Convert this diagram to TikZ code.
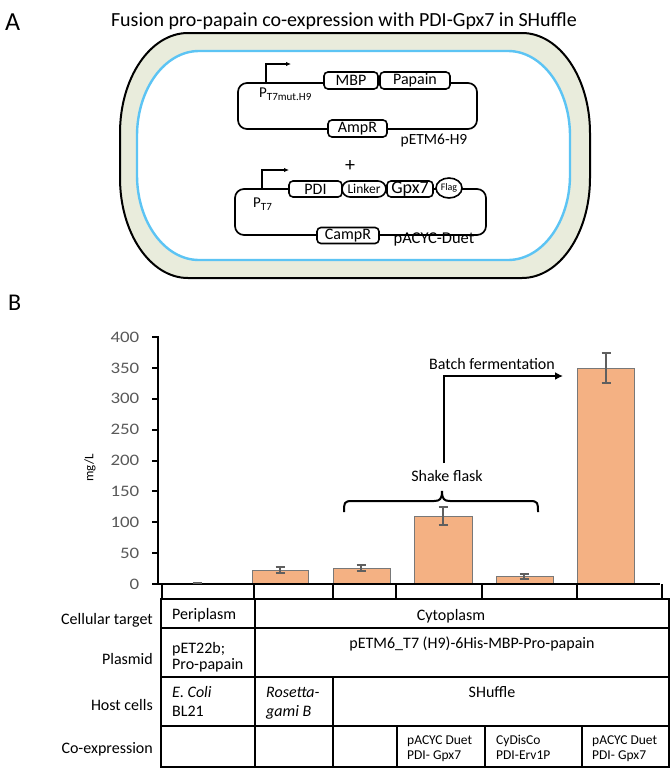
\documentclass[tikz,border=0pt]{standalone}
\usepackage{fontspec}
\setmainfont{Carlito}
\usetikzlibrary{arrows.meta,shapes.geometric}
\definecolor{cellfill}{RGB}{233,236,220}
\definecolor{membrane}{RGB}{92,196,244}
\definecolor{barfill}{RGB}{244,177,131}
\definecolor{barline}{RGB}{120,120,120}
\definecolor{errc}{RGB}{95,95,95}
\definecolor{axtext}{RGB}{89,89,89}
\newcommand\fsz[1]{\fontsize{#1}{#1}\selectfont}
\begin{document}
\begin{tikzpicture}[x=1pt,y=-1pt,
  gene/.style={draw, line width=1.6pt, fill=white, rounded corners=4pt, inner sep=0pt, font=\fsz{16}},
  loopline/.style={draw, line width=1.7pt, rounded corners=9pt},
  prom/.style={line width=1.6pt, -{Latex[length=5pt,width=4.5pt]}},
  lbl/.style={inner sep=0pt, font=\fsz{16}},
  ticklbl/.style={inner sep=0pt, anchor=east, text=axtext, font=\fsz{16}},
  bar/.style={fill=barfill, draw=barline, line width=0.8pt},
  errbar/.style={draw=errc, line width=1.8pt},
  tbl/.style={line width=1.3pt},
  cellt/.style={inner sep=0pt, font=\fsz{16}},
  small/.style={inner sep=0pt, font=\fsz{13.5}}
]
\useasboundingbox (0,0) rectangle (671,771);
\fill[white] (0,0) rectangle (671,771);

% ---------------- Panel A ----------------
\node[inner sep=0pt, font=\fsz{26}, anchor=base west] (lblA) at (5,30) {A};
\node[inner sep=0pt, font=\fsz{20}, anchor=base] (title) at (344,26.5) {Fusion pro-papain co-expression with PDI-Gpx7 in SHuffle};

% cell envelope
\draw[fill=cellfill, line width=2pt]
  (188,33) -- (522,33) arc[start angle=90, end angle=0, x radius=68pt, y radius=100pt]
  -- (590,178) arc[start angle=0, end angle=-90, x radius=68pt, y radius=100pt]
  -- (188,278) arc[start angle=270, end angle=180, x radius=68pt, y radius=100pt]
  -- (120,133) arc[start angle=180, end angle=90, x radius=68pt, y radius=100pt] -- cycle;
\draw[fill=white, draw=membrane, line width=2.4pt]
  (199,51) -- (508,51) arc[start angle=90, end angle=0, x radius=62pt, y radius=85pt]
  -- (570,175) arc[start angle=0, end angle=-90, x radius=62pt, y radius=85pt]
  -- (199,260) arc[start angle=270, end angle=180, x radius=62pt, y radius=85pt]
  -- (137,136) arc[start angle=180, end angle=90, x radius=62pt, y radius=85pt] -- cycle;

% plasmid 1
\draw[loopline] (238,83) rectangle (477,129);
\draw[prom] (266,83) -- (266,64) -- (291,64);
\node[gene, minimum width=54pt, minimum height=17pt] (mbp) at (351,80.5) {MBP};
\node[gene, minimum width=70pt, minimum height=17pt] (papain) at (415,80.5) {Papain};
\node[gene, minimum width=59pt, minimum height=17pt] (ampr) at (357.5,128.5) {AmpR};
\node[inner sep=0pt, anchor=base west, font=\fsz{15}] (pt7mut) at (259,97) {P\raisebox{-3.5pt}{\fsz{11}T7mut.H9}};
\node[lbl, font=\fsz{15.5}] (petm6) at (434,141) {pETM6-H9};

\node[inner sep=0pt, font=\fsz{20}] (plus) at (350,166) {+};

% plasmid 2
\draw[loopline] (235,189) rectangle (486,235);
\draw[prom] (262,189) -- (262,170) -- (289,170);
\node[gene, minimum width=53pt, minimum height=16pt] (pdi) at (315.5,189) {PDI};
\node[gene, rounded corners=8pt, minimum width=44pt, minimum height=16pt, font=\fsz{13.5}] (linker) at (364,189) {Linker};
\node[gene, minimum width=46pt, minimum height=16pt, font=\fsz{18}] (gpx7) at (410,189) {Gpx7};
\node[draw, ellipse, line width=1.6pt, fill=white, inner sep=0pt, minimum width=26pt, minimum height=20pt, font=\fsz{10}] (flag) at (449,188) {Flag};
\node[gene, minimum width=62pt, minimum height=16pt] (campr) at (348,235.5) {CampR};
\node[inner sep=0pt, anchor=base west, font=\fsz{15}] (pt7) at (253,207) {P\raisebox{-3.5pt}{\fsz{11}T7}};
\node[lbl, font=\fsz{16.5}] (pacyc) at (434,239) {pACYC-Duet};

% ---------------- Panel B ----------------
\node[inner sep=0pt, font=\fsz{24}, anchor=base west] (lblB) at (8,310) {B};

% axes
\draw[line width=2pt] (157.5,336) -- (157.5,584);
\foreach \k/\t in {1/50,2/100,3/150,4/200,5/250,6/300,7/350,8/400}{
  \draw[line width=2pt] (152,584-30.875*\k) -- (157.5,584-30.875*\k);
}
\foreach \k/\t in {0/0,1/50,2/100,3/150,4/200,5/250,6/300,7/350,8/400}{
  \node[ticklbl] (tick\k) at (139.5,584-30.875*\k) {\scalebox{1.18}[1]{\t}};
}
\node[rotate=90, inner sep=0pt, font=\fsz{13}] (ylab) at (90,468) {mg/L};

% bars
\draw[bar] (252,570) rectangle (308,584);
\draw[bar] (333,568) rectangle (390,584);
\draw[bar] (414,516) rectangle (472,584);
\draw[bar] (496,576) rectangle (553,584);
\draw[bar] (577,368) rectangle (634,584);
\draw[line width=2pt] (152,584) -- (660,584);

% error bars
\draw[errbar] (193,583) -- (202,583);
\foreach \x/\a/\b in {280/567/573, 361/565/571, 443/507/525, 524/574/579, 606/353/383}{
  \draw[errbar] (\x,\a) -- (\x,\b);
  \draw[errbar] (\x-4.5,\a) -- (\x+4.5,\a);
  \draw[errbar] (\x-4.5,\b) -- (\x+4.5,\b);
}

% shake flask bracket & batch arrow
\draw[line width=2pt] (344,512) .. controls (344,503) and (344,501) .. (352,501) -- (434,501)
   .. controls (440,501) and (442,499) .. (442,491)
   .. controls (442,499) and (444,501) .. (450,501) -- (530,501)
   .. controls (538,501) and (538,503) .. (538,512);
\node[lbl] (shake) at (447,476) {Shake flask};
\coordinate (bstart) at (444,463);
\draw[line width=2pt, -{Latex[length=8pt,width=8pt]}] (bstart) -- (444,376) -- (563,376);
\node[lbl] (batch) at (492,364) {Batch fermentation};

% category row under axis
\foreach \x in {162,254,333,396,482,577,662}{
  \draw[line width=1.8pt] (\x,584) -- (\x,598);
}

% table
\draw[tbl] (161,599) rectangle (669,767);
\draw[tbl] (161,628) -- (669,628);
\draw[tbl] (161,677) -- (669,677);
\draw[tbl] (161,726) -- (669,726);
\draw[tbl] (255,599) -- (255,767);
\draw[tbl] (333,677) -- (333,767);
\draw[tbl] (397,726) -- (397,767);
\draw[tbl] (485,726) -- (485,767);
\draw[tbl] (582,726) -- (582,767);

\node[cellt, anchor=base east] (rcell) at (153,624) {Cellular target};
\node[cellt, anchor=base east] (rplas) at (153,664) {Plasmid};
\node[cellt, anchor=base east] (rhost) at (153,710) {Host cells};
\node[cellt, anchor=base east] (rcoex) at (153,753) {Co-expression};

\node[cellt, anchor=base west] (peri) at (172,619) {Periplasm};
\node[cellt, anchor=base] (cyto) at (451,620) {Cytoplasm};
\node[cellt, anchor=base west] (pet1) at (172,653) {pET22b;};
\node[cellt, anchor=base west] (pet2) at (172,669) {Pro-papain};
\node[cellt, anchor=base] (petm) at (472,648) {pETM6\_T7 (H9)-6His-MBP-Pro-papain};
\node[cellt, anchor=base west] (eco1) at (172,697) {\itshape E. Coli};
\node[cellt, anchor=base west] (eco2) at (172,716) {BL21};
\node[cellt, anchor=base west] (ros1) at (266,697) {\itshape Rosetta-};
\node[cellt, anchor=base west] (ros2) at (266,716) {\itshape gami B};
\node[cellt, anchor=base] (shuf) at (492,697) {SHuffle};

\node[small, anchor=base west] (c1a) at (407,744) {pACYC Duet};
\node[small, anchor=base west] (c1b) at (407,759) {PDI- Gpx7};
\node[small, anchor=base west] (c2a) at (496,744) {CyDisCo};
\node[small, anchor=base west] (c2b) at (496,759) {PDI-Erv1P};
\node[small, anchor=base west] (c3a) at (592,744) {pACYC Duet};
\node[small, anchor=base west] (c3b) at (592,759) {PDI- Gpx7};
\end{tikzpicture}
\end{document}
